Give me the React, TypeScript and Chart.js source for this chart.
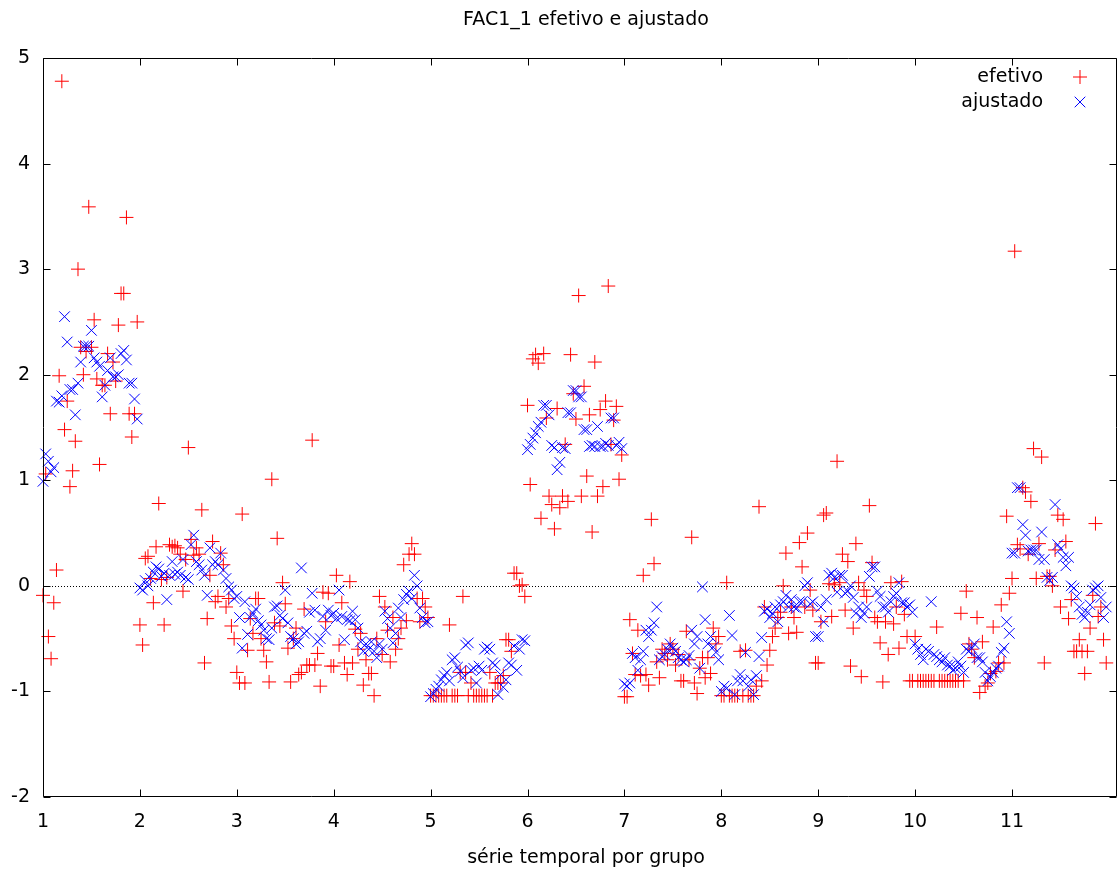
import React, { useEffect, useRef } from 'react';
import { Chart, registerables } from 'chart.js';

Chart.register(...registerables);

// ---- data ----
const periodsPerGroup = 36;
const groupTicks = [1, 2, 3, 4, 5, 6, 7, 8, 9, 10, 11];
const yMin = -2;
const yMax = 5;
const xMax = 1 + 399 / periodsPerGroup;

const efetivoG1 = [-0.09, 1.06, -0.48, -0.69, -0.16, 0.15, 1.99, 4.78, 1.48, 1.75, 0.94, 1.09, 1.37, 3.0, 2.26, 2.0, 2.22, 3.59, 2.26, 2.52, 1.96, 1.15, 1.9, 1.9, 2.2, 1.63, 2.12, 1.94, 2.47, 2.77, 2.77, 3.49, 1.63, 1.41, 1.63, 2.5];
const efetivoG2 = [-0.37, -0.56, 0.26, 0.28, 0.07, -0.16, 0.37, 0.78, 0.06, -0.37, 0.08, 0.39, 0.37, 0.38, 0.36, 0.3, -0.05, 0.25, 1.31, 0.44, 0.29, 0.36, 0.3, 0.72, -0.73, -0.31, 0.1, 0.42, -0.15, -0.1, 0.31, 0.2, -0.2, -0.12, -0.38, -0.5];
const efetivoG3 = [-0.82, -0.92, 0.68, -0.92, -0.61, -0.31, -0.45, -0.12, -0.12, -0.5, -0.61, -0.72, -0.91, 1.01, -0.35, 0.45, -0.38, 0.03, -0.17, -0.59, -0.91, -0.5, -0.4, -0.84, -0.82, -0.22, -0.75, -0.75, 1.38, -0.75, -0.64, -0.95, -0.06, -0.34, -0.07, -0.76];
const efetivoG4 = [-0.76, 0.1, -0.56, -0.16, -0.73, -0.84, 0.04, -0.73, -0.41, -0.6, -0.45, -0.94, -0.7, -0.83, -0.83, -1.04, -0.5, -0.1, -0.65, -0.2, -0.42, -0.72, -0.3, -0.6, -0.5, -0.4, 0.2, -0.33, 0.3, 0.4, 0.3, -0.12, -0.34, -0.12, -0.2, -0.3];
const efetivoG5 = [-1.04, -1.04, -1.04, -1.04, -1.04, -1.04, -1.04, -0.37, -1.04, -1.04, -1.04, -0.82, -0.1, -0.82, -1.04, -0.92, -1.04, -1.04, -1.04, -1.04, -1.04, -1.04, -0.82, -1.04, -0.92, -0.92, -0.92, -0.85, -0.51, -0.51, -0.62, 0.12, 0.12, 0.0, 0.01, -0.1];
const efetivoG6 = [1.71, 0.96, 2.15, 2.19, 2.11, 0.64, 2.2, 1.59, 0.85, 0.77, 0.54, 1.68, 0.74, 0.85, 1.34, 0.8, 2.19, 1.82, 1.58, 2.75, 0.85, 1.89, 1.04, 1.62, 0.51, 2.12, 0.85, 1.67, 0.94, 1.75, 2.84, 1.34, 1.57, 1.7, 1.01, 1.24];
const efetivoG7 = [-1.05, -1.05, -0.32, -0.64, -0.84, -0.42, -0.85, 0.1, -0.84, -0.94, 0.63, 0.21, -0.72, -0.87, -0.6, -0.64, -0.7, -0.55, -0.6, -0.75, -0.65, -0.9, -0.9, -0.43, -0.7, 0.46, -0.92, -1.02, -0.78, -0.68, -0.87, -0.68, -0.83, -0.4, -0.55, -0.48];
const efetivoG8 = [-1.04, -1.04, 0.03, -1.04, -1.04, -1.04, -1.04, -0.62, -1.04, -0.61, -1.04, -1.04, -1.04, -0.95, 0.75, -0.9, -0.2, -0.75, -0.61, -0.48, -0.4, -0.3, -0.25, 0.0, 0.31, -0.45, -0.2, -0.3, -0.44, 0.41, 0.18, -0.2, 0.5, -0.04, -0.23, -0.73];
const efetivoG9 = [-0.73, -0.34, 0.67, 0.69, 0.02, -0.29, 0.01, 1.18, 0.03, 0.3, -0.23, 0.23, -0.76, -0.4, 0.4, 0.03, -0.86, -0.04, -0.1, 0.76, 0.22, -0.3, -0.34, -0.54, -0.91, -0.34, -0.65, 0.03, -0.36, -0.2, -0.59, 0.04, -0.27, -0.48, -0.9, -0.9];
const efetivoG10 = [-0.48, -0.9, -0.9, -0.9, -0.9, -0.9, -0.9, -0.9, -0.39, -0.9, -0.9, -0.9, -0.9, -0.9, -0.9, -0.9, -0.9, -0.26, -0.9, -0.05, -0.55, -0.6, -0.68, -0.3, -1.01, -0.53, -0.95, -0.92, -0.83, -0.39, -0.81, -0.73, -0.18, -0.73, 0.66, -0.07];
const efetivoG11 = [0.07, 3.17, 0.39, 0.35, 0.93, 0.89, 0.3, 0.8, 1.3, 0.07, 0.4, 1.22, -0.73, 0.09, 0.09, 0.0, 0.34, 0.67, -0.2, 0.63, 0.42, -0.31, -0.13, -0.62, -0.62, -0.51, -0.62, -0.83, -0.62, -0.4, -0.09, 0.59, -0.29, -0.2, -0.51, -0.73];

const ajustadoG1 = [0.99, 1.25, 1.18, 1.08, 1.12, 1.75, 1.74, 1.8, 2.55, 2.31, 1.86, 1.86, 1.62, 1.92, 2.12, 2.27, 2.27, 2.27, 2.42, 2.16, 2.12, 2.08, 1.79, 1.9, 2.04, 2.16, 1.98, 1.98, 2.0, 2.2, 2.23, 2.14, 1.92, 1.92, 1.77, 1.58];
const ajustadoG2 = [-0.02, -0.04, 0.05, 0.0, 0.07, 0.13, 0.18, 0.16, 0.09, 0.12, -0.13, 0.1, 0.23, 0.11, 0.13, 0.1, 0.25, 0.08, 0.06, 0.39, 0.48, 0.23, 0.2, 0.15, 0.1, -0.09, 0.36, 0.2, 0.23, 0.2, 0.31, 0.15, 0.07, -0.01, -0.04, -0.12];
const ajustadoG3 = [-0.1, -0.3, -0.59, -0.15, -0.46, -0.3, -0.26, -0.22, -0.33, -0.37, -0.42, -0.5, -0.51, -0.4, -0.2, -0.19, -0.28, -0.31, -0.04, -0.35, -0.48, -0.5, -0.55, -0.53, 0.17, -0.45, -0.43, -0.25, -0.07, -0.23, -0.53, -0.5, -0.29, -0.42, -0.23, -0.28];
const ajustadoG4 = [-0.26, -0.31, -0.04, -0.29, -0.51, -0.32, -0.33, -0.24, -0.32, -0.4, -0.53, -0.62, -0.55, -0.6, -0.53, -0.62, -0.68, -0.55, -0.6, -0.24, -0.31, -0.4, -0.54, -0.45, -0.21, -0.3, -0.13, -0.08, -0.05, -0.12, 0.1, 0.0, -0.21, -0.3, -0.35, -0.34];
const ajustadoG5 = [-1.05, -1.02, -0.98, -0.95, -0.89, -0.85, -0.82, -0.9, -0.7, -0.68, -0.77, -0.81, -0.87, -0.56, -0.54, -0.8, -0.78, -0.92, -0.76, -0.8, -0.6, -0.58, -0.6, -0.73, -0.75, -1.03, -0.84, -0.96, -0.89, -0.73, -0.75, -0.57, -0.8, -0.6, -0.51, -0.52];
const ajustadoG6 = [1.29, 1.34, 1.4, 1.45, 1.51, 1.55, 1.71, 1.71, 1.62, 1.33, 1.31, 1.1, 1.17, 1.31, 1.3, 1.64, 1.64, 1.85, 1.85, 1.79, 1.79, 1.48, 1.48, 1.32, 1.33, 1.32, 1.51, 1.32, 1.32, 1.35, 1.33, 1.59, 1.59, 1.33, 1.36, 1.3];
const ajustadoG7 = [-0.93, -0.95, -0.92, -0.64, -0.68, -0.8, -0.7, -0.62, -0.42, -0.48, -0.42, -0.35, -0.2, -0.7, -0.67, -0.65, -0.6, -0.55, -0.59, -0.62, -0.68, -0.7, -0.72, -0.7, -0.66, -0.42, -0.55, -0.48, -0.78, -0.01, -0.32, -0.55, -0.48, -0.58, -0.63, -0.7];
const ajustadoG8 = [-1.0, -0.95, -0.97, -0.28, -0.47, -1.03, -0.9, -0.84, -0.9, -0.63, -0.95, -0.89, -1.03, -0.85, -0.67, -0.49, -0.24, -0.22, -0.3, -0.26, -0.2, -0.34, -0.18, -0.15, -0.09, -0.2, -0.13, -0.2, -0.21, -0.15, -0.15, 0.0, 0.03, -0.17, -0.15, -0.48];
const ajustadoG9 = [-0.48, -0.2, -0.34, -0.13, 0.1, 0.12, 0.08, -0.06, 0.1, 0.1, -0.07, -0.05, 0.0, -0.11, -0.26, -0.2, -0.3, -0.26, -0.2, 0.09, 0.18, 0.18, -0.05, -0.1, -0.2, -0.2, -0.25, -0.15, -0.1, -0.07, 0.03, -0.16, -0.16, -0.2, -0.18, -0.25];
const ajustadoG10 = [-0.55, -0.6, -0.65, -0.7, -0.6, -0.62, -0.15, -0.65, -0.67, -0.7, -0.72, -0.68, -0.75, -0.76, -0.8, -0.78, -0.72, -0.76, -0.82, -0.6, -0.62, -0.59, -0.55, -0.68, -0.68, -0.72, -0.82, -0.9, -0.86, -0.82, -0.78, -0.76, -0.63, -0.59, -0.34, -0.45];
const ajustadoG11 = [0.31, 0.31, 0.93, 0.93, 0.58, 0.48, 0.33, 0.34, 0.34, 0.34, 0.25, 0.51, 0.25, 0.08, 0.05, 0.08, 0.77, 0.39, 0.35, 0.27, 0.19, 0.27, 0.0, -0.02, -0.1, -0.2, -0.27, -0.3, -0.25, -0.18, -0.04, -0.02, 0.0, -0.11, -0.3, -0.2];

const efetivoGroups = [efetivoG1, efetivoG2, efetivoG3, efetivoG4, efetivoG5, efetivoG6, efetivoG7, efetivoG8, efetivoG9, efetivoG10, efetivoG11];
const ajustadoGroups = [ajustadoG1, ajustadoG2, ajustadoG3, ajustadoG4, ajustadoG5, ajustadoG6, ajustadoG7, ajustadoG8, ajustadoG9, ajustadoG10, ajustadoG11];

const titleText = 'FAC1_1 efetivo e ajustado';
const xTitleText = 'série temporal por grupo';
const seriesLabels = ['efetivo', 'ajustado'];

// ---- style ----
const FONT_FAMILY = '"DejaVu Sans", "Liberation Sans", sans-serif';
const FONT_SIZE = 19;
const RED = '#ff0000';
const BLUE = '#0000ff';
const TEXT_SHIFT = 6;

function toPoints(groups: number[][]) {
  return groups.flatMap((vals, gi) =>
    vals.map((v, t) => ({ x: groupTicks[gi] + t / periodsPerGroup, y: v }))
  );
}

function drawMarker(ctx: CanvasRenderingContext2D, style: string, x: number, y: number, r: number) {
  ctx.beginPath();
  if (style === 'cross') {
    ctx.moveTo(x - r, y);
    ctx.lineTo(x + r, y);
    ctx.moveTo(x, y - r);
    ctx.lineTo(x, y + r);
  } else {
    const d = r * Math.SQRT1_2;
    ctx.moveTo(x - d, y - d);
    ctx.lineTo(x + d, y + d);
    ctx.moveTo(x - d, y + d);
    ctx.lineTo(x + d, y - d);
  }
  ctx.stroke();
}

const framePlugin = {
  id: 'gnuFrame',
  beforeDraw(chart: any) {
    if (chart.$gnuShifted) return;
    chart.$gnuShifted = true;
    const tb = chart.titleBlock;
    if (tb) {
      tb.left += TEXT_SHIFT;
      tb.right += TEXT_SHIFT;
    }
    const xs = chart.scales.x;
    xs.left += TEXT_SHIFT;
    xs.right += TEXT_SHIFT;
  },
  beforeDatasetsDraw(chart: any) {
    const { ctx, chartArea, scales } = chart;
    const y0 = Math.round(scales.y.getPixelForValue(0)) + 0.5;
    ctx.save();
    ctx.strokeStyle = '#000';
    ctx.lineWidth = 1;
    ctx.setLineDash([1, 2]);
    ctx.beginPath();
    ctx.moveTo(chartArea.left, y0);
    ctx.lineTo(chartArea.right, y0);
    ctx.stroke();
    ctx.restore();
  },
  afterDatasetsDraw(chart: any) {
    const { ctx, chartArea, scales } = chart;
    const { left, right, top, bottom } = chartArea;
    const tick = 7;
    ctx.save();
    ctx.strokeStyle = '#000';
    ctx.lineWidth = 1;
    ctx.setLineDash([]);
    ctx.beginPath();
    const L = Math.round(left) + 0.5;
    const R = Math.round(right) - 0.5;
    const T = Math.round(top) + 0.5;
    const B = Math.round(bottom) - 0.5;
    ctx.rect(L, T, R - L, B - T);
    scales.x.ticks.forEach((tk: any) => {
      const px = Math.round(scales.x.getPixelForValue(tk.value)) + 0.5;
      ctx.moveTo(px, B);
      ctx.lineTo(px, B - tick);
      ctx.moveTo(px, T);
      ctx.lineTo(px, T + tick);
    });
    scales.y.ticks.forEach((tk: any) => {
      const py = Math.round(scales.y.getPixelForValue(tk.value)) + 0.5;
      ctx.moveTo(L, py);
      ctx.lineTo(L + tick, py);
      ctx.moveTo(R, py);
      ctx.lineTo(R - tick, py);
    });
    ctx.stroke();
    ctx.restore();
  },
  afterDraw(chart: any) {
    const { ctx, chartArea } = chart;
    const textRight = chartArea.right - 74;
    const markerX = chartArea.right - 37;
    const firstY = chartArea.top + 19;
    const rowGap = 25;
    ctx.save();
    ctx.font = `${FONT_SIZE}px ${FONT_FAMILY}`;
    ctx.textAlign = 'right';
    ctx.textBaseline = 'middle';
    ctx.fillStyle = '#000';
    chart.data.datasets.forEach((ds: any, i: number) => {
      const y = firstY + i * rowGap;
      ctx.fillText(ds.label, textRight, y);
      ctx.strokeStyle = ds.borderColor;
      ctx.lineWidth = 1;
      drawMarker(ctx, ds.pointStyle, markerX, y, ds.pointRadius);
    });
    ctx.restore();
  },
};

export default function App() {
  const canvasRef = useRef<HTMLCanvasElement | null>(null);

  useEffect(() => {
    if (!canvasRef.current) return;
    const font = { family: FONT_FAMILY, size: FONT_SIZE, weight: 'normal' as const };
    const chart = new Chart(canvasRef.current, {
      type: 'scatter',
      data: {
        datasets: [
          {
            label: seriesLabels[0],
            data: toPoints(efetivoGroups),
            pointStyle: 'cross',
            pointRadius: 7,
            pointBorderWidth: 1,
            borderColor: RED,
            backgroundColor: RED,
            showLine: false,
            clip: false,
            order: 1,
          } as any,
          {
            label: seriesLabels[1],
            data: toPoints(ajustadoGroups),
            pointStyle: 'crossRot',
            pointRadius: 7.5,
            pointBorderWidth: 1,
            borderColor: BLUE,
            backgroundColor: BLUE,
            showLine: false,
            clip: false,
            order: 0,
          } as any,
        ],
      },
      options: {
        responsive: false,
        animation: false,
        devicePixelRatio: 1,
        events: [],
        layout: { autoPadding: false, padding: { left: 0, right: 2, top: 0, bottom: 0 } },
        plugins: {
          legend: { display: false },
          tooltip: { enabled: false },
          title: {
            display: true,
            text: titleText,
            fullSize: false,
            color: '#000',
            font,
            padding: { top: 8.6, bottom: 26.6 },
          },
        },
        scales: {
          x: {
            type: 'linear',
            min: 1,
            max: xMax,
            grid: { display: false, drawTicks: false },
            border: { display: false },
            ticks: { color: '#000', font, padding: 13.6, maxRotation: 0, autoSkip: false },
            afterBuildTicks: (s: any) => {
              s.ticks = groupTicks.map((v) => ({ value: v }));
            },
            afterFit: (s: any) => {
              s.height = 74;
              s.paddingLeft = 0;
              s.paddingRight = 0;
            },
            title: {
              display: true,
              text: xTitleText,
              color: '#000',
              font,
              padding: { top: 0, bottom: 1.6 },
            },
          },
          y: {
            type: 'linear',
            min: yMin,
            max: yMax,
            grid: { display: false, drawTicks: false },
            border: { display: false },
            ticks: { color: '#000', font, padding: 13, stepSize: 1 },
            afterFit: (s: any) => {
              s.width = 43;
              s.paddingTop = 0;
              s.paddingBottom = 0;
            },
          },
        },
      } as any,
      plugins: [framePlugin],
    });
    return () => chart.destroy();
  }, []);

  return (
    <div style={{ position: 'absolute', left: 0, top: 0, width: 1119, height: 871, background: '#fff' }}>
      <canvas ref={canvasRef} width={1119} height={871} />
    </div>
  );
}
